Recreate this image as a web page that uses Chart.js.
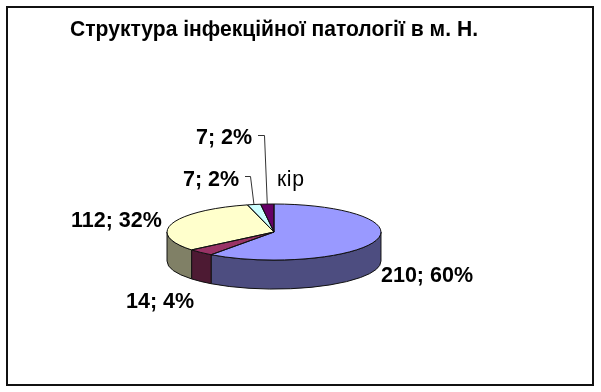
<!DOCTYPE html>
<html>
<head>
<meta charset="utf-8">
<style>
body { margin: 0; background: #fff; }
canvas { display: block; }
</style>
<script src="https://cdn.jsdelivr.net/npm/chart.js@4/dist/chart.umd.min.js"></script>
</head>
<body>
<canvas id="pieChart" width="601" height="392"></canvas>
<script>
var chartTitle = 'Структура інфекційної патології в м. Н.';
var categories = ['', '', '', '', 'кір'];
var values = [210, 14, 112, 7, 7];

var topColors = ['#9999ff', '#993366', '#ffffcc', '#ccffff', '#660066'];
var wallColors = ['#4d4d80', '#4d1a33', '#808066', '#668080', '#330033'];

// where each value label sits: [x, baseline]
var labelPositions = [[381, 282], [126, 308], [71, 227], [183, 186], [196, 144]];
// leader lines of the two small slices: index, elbow start x, elbow x, elbow y
var leaders = [[3, 245, 250, 176], [4, 258, 264, 135]];
var categoryPosition = [277, 186];

var squash = 0.262;
var depth = 29;
var labelFont = 'bold 21.5px "Liberation Sans"';

var total = values.reduce(function (a, b) { return a + b; }, 0);

var pie3d = {
    id: 'pie3d',
    beforeDraw: function (chart) {
        var ctx = chart.ctx;
        ctx.save();
        ctx.fillStyle = '#fff';
        ctx.fillRect(0, 0, chart.width, chart.height);
        ctx.strokeStyle = '#111';
        ctx.lineWidth = 2;
        ctx.strokeRect(7, 7, 586, 378);
        ctx.restore();
    },
    beforeDatasetsDraw: function (chart) {
        var ctx = chart.ctx;
        chart.getDatasetMeta(0).data.forEach(function (arc, i) {
            // only the front half of the pie shows a wall
            var a = Math.max(arc.startAngle, 0);
            var b = Math.min(arc.endAngle, Math.PI);
            if (b <= a) return;
            var rx = arc.outerRadius;
            var ry = rx * squash;
            ctx.beginPath();
            ctx.ellipse(arc.x, arc.y, rx, ry, 0, a, b);
            ctx.ellipse(arc.x, arc.y + depth, rx, ry, 0, b, a, true);
            ctx.closePath();
            ctx.fillStyle = wallColors[i];
            ctx.fill();
            ctx.strokeStyle = '#111';
            ctx.lineWidth = 1;
            ctx.stroke();
        });
        var first = chart.getDatasetMeta(0).data[0];
        ctx.save();
        ctx.translate(first.x, first.y);
        ctx.scale(1, squash);
        ctx.translate(-first.x, -first.y);
    },
    afterDatasetsDraw: function (chart) {
        var ctx = chart.ctx;
        ctx.restore();
        var arcs = chart.getDatasetMeta(0).data;
        arcs.forEach(function (arc) {
            var rx = arc.outerRadius;
            ctx.beginPath();
            ctx.moveTo(arc.x, arc.y);
            ctx.ellipse(arc.x, arc.y, rx, rx * squash, 0, arc.startAngle, arc.endAngle);
            ctx.closePath();
            ctx.strokeStyle = '#111';
            ctx.lineWidth = 1;
            ctx.stroke();
        });

        // leader lines go to the middle of the slice's rim
        leaders.forEach(function (l) {
            var arc = arcs[l[0]];
            var mid = (arc.startAngle + arc.endAngle) / 2;
            var rx = arc.outerRadius;
            ctx.beginPath();
            ctx.moveTo(l[1], l[3] + 0.5);
            ctx.lineTo(l[2] + 0.5, l[3] + 0.5);
            ctx.lineTo(arc.x + rx * Math.cos(mid), arc.y + rx * squash * Math.sin(mid));
            ctx.strokeStyle = '#333';
            ctx.lineWidth = 1;
            ctx.stroke();
        });

        ctx.save();
        ctx.fillStyle = '#000';
        ctx.textAlign = 'left';
        ctx.textBaseline = 'alphabetic';
        ctx.font = labelFont;
        values.forEach(function (v, i) {
            var pct = Math.round(v / total * 100);
            ctx.fillText(v + '; ' + pct + '%', labelPositions[i][0], labelPositions[i][1]);
        });
        ctx.font = '21.2px "Liberation Sans"';
        ctx.letterSpacing = '0.6px';
        ctx.fillText(categories[4], categoryPosition[0], categoryPosition[1]);
        ctx.restore();
    }
};

var ctx1 = document.getElementById('pieChart').getContext('2d');
var pieChart = new Chart(ctx1, {
    type: 'pie',
    data: {
        labels: categories,
        datasets: [{
            data: values,
            backgroundColor: topColors,
            borderWidth: 0,
            clip: false
        }]
    },
    options: {
        responsive: false,
        animation: false,
        layout: { padding: { left: 70, right: 123, top: 0, bottom: 53 } },
        plugins: {
            legend: { display: false },
            tooltip: { enabled: false },
            title: {
                display: true,
                text: chartTitle,
                color: '#000',
                font: { family: '"Liberation Sans"', size: 21.3, weight: 'bold', lineHeight: 1.2 },
                padding: { top: 17.5, bottom: 82 }
            }
        }
    },
    plugins: [pie3d]
});
</script>
</body>
</html>
